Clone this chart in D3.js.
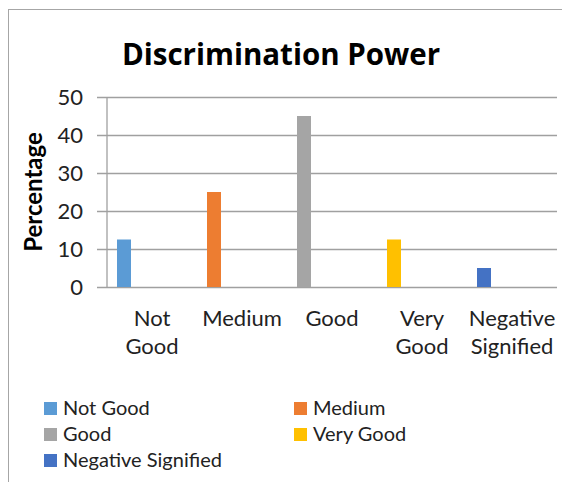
<!DOCTYPE html>
<html>
<head>
<meta charset="utf-8">
<script src="https://cdn.jsdelivr.net/npm/d3@7"></script>
<style>
  html, body { margin: 0; padding: 0; background: #fff; }
  svg { display: block; }
</style>
</head>
<body>
<svg id="chart" width="562" height="482"></svg>
<script>
// ---- data ----
const categories = ["Not Good", "Medium", "Good", "Very Good", "Negative Signified"];
const categoryLabelLines = [["Not", "Good"], ["Medium"], ["Good"], ["Very", "Good"], ["Negative", "Signified"]];
const values = [12.5, 25, 45, 12.5, 5];
const colors = ["#5B9BD5", "#ED7D31", "#A5A5A5", "#FFC000", "#4472C4"];
const yTicks = [0, 10, 20, 30, 40, 50];
const title = "Discrimination Power";
const yTitle = "Percentage";

// ---- layout ----
const svg = d3.select("#chart");
const plot = { left: 107, right: 557, top: 97, bottom: 287 };
const baseFont = "Lato, 'Open Sans', sans-serif";

// chart border (only top and left edges visible in frame)
svg.append("rect")
  .attr("x", 8.5).attr("y", 9.5)
  .attr("width", 600).attr("height", 600)
  .attr("fill", "none").attr("stroke", "#a6a6a6").attr("stroke-width", 1);

const x0 = d3.scaleBand()
  .domain(categories)
  .range([plot.left, plot.right])
  .paddingInner(2 / 9)
  .paddingOuter(1 / 9);
const x1 = d3.scaleBand()
  .domain(d3.range(categories.length))
  .range([0, x0.bandwidth()]);

const y = d3.scaleLinear().domain([0, 50]).range([plot.bottom, plot.top]);

// gridlines (and left tick stubs) via axisRight
const grid = svg.append("g")
  .attr("transform", `translate(${plot.left - 10},0)`)
  .call(d3.axisRight(y).tickValues(yTicks).tickSize(plot.right - plot.left + 10).tickFormat(""));
grid.select(".domain").remove();
grid.selectAll(".tick line").attr("stroke", "#a0a0a0").attr("stroke-width", 1.3);

// tick labels
const yAxis = svg.append("g")
  .attr("transform", `translate(${plot.left - 10},0)`)
  .call(d3.axisLeft(y).tickValues(yTicks).tickSize(0).tickPadding(14));
yAxis.select(".domain").remove();
yAxis.selectAll(".tick text")
  .style("font-family", baseFont)
  .style("font-size", "22px")
  .attr("fill", "#222")
  .attr("dy", "0.36em");

// vertical axis line
svg.append("line")
  .attr("x1", plot.left).attr("x2", plot.left)
  .attr("y1", y(50)).attr("y2", y(0))
  .attr("stroke", "#a0a0a0").attr("stroke-width", 1.3);

// bars
svg.append("g").selectAll("rect")
  .data(values)
  .join("rect")
  .attr("x", (d, i) => x0(categories[i]) + x1(0))
  .attr("width", 14)
  .attr("y", d => y(d))
  .attr("height", d => y(0) - y(d))
  .attr("fill", (d, i) => colors[i]);

// category labels
const catG = svg.append("g");
categories.forEach((c, i) => {
  const t = catG.append("text")
    .attr("text-anchor", "middle")
    .style("font-family", baseFont)
    .style("font-size", "22px")
    .attr("fill", "#222");
  categoryLabelLines[i].forEach((line, j) => {
    t.append("tspan")
      .attr("x", x0(c) + x0.bandwidth() / 2)
      .attr("y", 326 + j * 28)
      .text(line);
  });
});

// title
svg.append("text")
  .attr("x", 281).attr("y", 65)
  .attr("text-anchor", "middle")
  .style("font-family", "'Open Sans', Lato, sans-serif")
  .style("font-size", "29.5px")
  .style("font-weight", "bold")
  .attr("fill", "#000")
  .text(title);

// y axis title
svg.append("text")
  .attr("transform", `translate(42,192) rotate(-90)`)
  .attr("text-anchor", "middle")
  .style("font-family", baseFont)
  .style("font-size", "24px")
  .style("font-weight", "bold")
  .attr("fill", "#000")
  .text(yTitle);

// legend
const legendPos = [
  { x: 44, y: 415 }, { x: 294, y: 415 },
  { x: 44, y: 441 }, { x: 294, y: 441 },
  { x: 44, y: 467 }
];
const legend = svg.append("g");
categories.forEach((c, i) => {
  const p = legendPos[i];
  legend.append("rect")
    .attr("x", p.x).attr("y", p.y - 13)
    .attr("width", 13).attr("height", 13)
    .attr("fill", colors[i]);
  legend.append("text")
    .attr("x", p.x + 19).attr("y", p.y)
    .style("font-family", baseFont)
    .style("font-size", "20px")
    .attr("fill", "#222")
    .text(c);
});
</script>
</body>
</html>
